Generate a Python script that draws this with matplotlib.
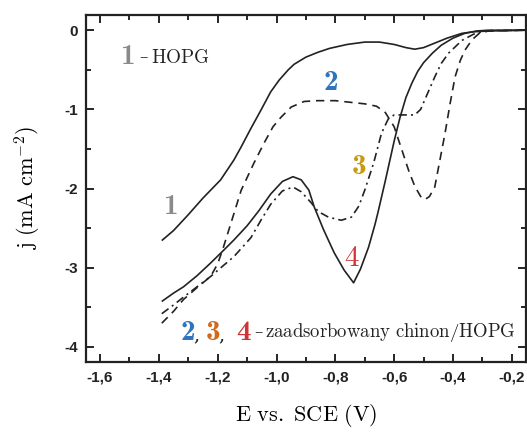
import matplotlib
matplotlib.use("Agg")
import matplotlib.pyplot as plt
import numpy as np

plt.rcParams['mathtext.fontset'] = 'cm'

# ---- data (E vs SCE in V, j in mA cm^-2) ----
E1 = [-1.388, -1.35, -1.30, -1.25, -1.19, -1.145, -1.121, -1.087, -1.053, -1.02,
      -0.991, -0.96, -0.94, -0.90, -0.86, -0.82, -0.76, -0.70, -0.65, -0.60,
      -0.56, -0.53, -0.50, -0.46, -0.42, -0.37, -0.33, -0.28, -0.15]
j1 = [-2.65, -2.53, -2.33, -2.12, -1.89, -1.64, -1.48, -1.24, -1.01, -0.78,
      -0.63, -0.50, -0.43, -0.34, -0.28, -0.23, -0.18, -0.15, -0.15, -0.18,
      -0.22, -0.24, -0.22, -0.16, -0.10, -0.04, -0.02, -0.01, 0.0]

E2 = [-1.39, -1.35, -1.316, -1.27, -1.224, -1.20, -1.183, -1.156, -1.12, -1.077,
      -1.043, -1.012, -0.985, -0.95, -0.906, -0.86, -0.80, -0.75, -0.70, -0.66,
      -0.63, -0.60, -0.574, -0.55, -0.53, -0.51, -0.496, -0.48, -0.462, -0.445,
      -0.427, -0.41, -0.393, -0.375, -0.359, -0.335, -0.311, -0.28, -0.15]
j2 = [-3.70, -3.55, -3.40, -3.25, -3.11, -2.95, -2.77, -2.45, -2.02, -1.68,
      -1.43, -1.22, -1.10, -0.97, -0.90, -0.89, -0.89, -0.91, -0.93, -0.96,
      -1.04, -1.22, -1.51, -1.78, -1.97, -2.10, -2.14, -2.10, -1.98, -1.65,
      -1.30, -0.93, -0.59, -0.38, -0.25, -0.12, -0.04, -0.01, 0.0]

E3 = [-1.39, -1.35, -1.316, -1.27, -1.224, -1.18, -1.145, -1.087, -1.053, -1.02,
      -0.98, -0.944, -0.916, -0.882, -0.858, -0.824, -0.78, -0.745, -0.72, -0.70,
      -0.67, -0.643, -0.62, -0.60, -0.574, -0.53, -0.51, -0.496, -0.462, -0.44,
      -0.415, -0.37, -0.33, -0.30, -0.27, -0.15]
j3 = [-3.58, -3.47, -3.37, -3.24, -3.11, -2.97, -2.86, -2.62, -2.40, -2.20,
      -2.03, -1.98, -2.04, -2.18, -2.29, -2.36, -2.40, -2.36, -2.22, -2.02,
      -1.68, -1.30, -1.12, -1.07, -1.07, -1.07, -1.00, -0.88, -0.59, -0.42,
      -0.29, -0.13, -0.05, -0.02, -0.005, 0.0]

E4 = [-1.388, -1.35, -1.316, -1.27, -1.224, -1.18, -1.145, -1.10, -1.06, -1.02,
      -0.98, -0.944, -0.916, -0.89, -0.872, -0.84, -0.804, -0.77, -0.738, -0.715,
      -0.687, -0.665, -0.655, -0.63, -0.60, -0.58, -0.56, -0.54, -0.52, -0.50,
      -0.47, -0.44, -0.40, -0.36, -0.32, -0.28, -0.15]
j4 = [-3.42, -3.32, -3.24, -3.10, -2.94, -2.78, -2.65, -2.47, -2.28, -2.07,
      -1.91, -1.85, -1.89, -2.02, -2.23, -2.52, -2.81, -3.03, -3.19, -3.02,
      -2.74, -2.45, -2.30, -1.90, -1.40, -1.10, -0.85, -0.67, -0.52, -0.41,
      -0.29, -0.19, -0.10, -0.04, -0.01, 0.0, 0.0]

x_ticks = [-1.6, -1.4, -1.2, -1.0, -0.8, -0.6, -0.4, -0.2]
y_ticks = [0, -1, -2, -3, -4]

# ---- figure ----
fig = plt.figure(figsize=(5.27, 4.33), dpi=100)
ax = fig.add_axes([0.163, 0.164, 0.835, 0.801])

lw = 1.2
ink = '#222222'
ax.plot(E1, j1, color=ink, lw=lw, ls='-')
ax.plot(E2, j2, color=ink, lw=lw, ls=(0, (5, 3.5)))
ax.plot(E3, j3, color=ink, lw=lw, ls=(0, (5, 2.5, 1.2, 2.5)))
ax.plot(E4, j4, color=ink, lw=lw, ls='-')

ax.set_xlim(-1.648, -0.152)
ax.set_ylim(-4.19, 0.19)

ax.set_xticks(x_ticks)
ax.set_xticklabels([f"{v:.1f}".replace('.', ',') for v in x_ticks])
ax.set_yticks(y_ticks)
ax.set_yticklabels([f"{v:d}" for v in y_ticks])
ax.set_xticks(np.arange(-1.6, -0.15, 0.1), minor=True)
ax.set_yticks(np.arange(-4.0, 0.01, 0.5), minor=True)

ax.tick_params(which='both', direction='in', top=True, right=True, width=1.2)
ax.tick_params(which='major', length=6, pad=6)
ax.tick_params(which='minor', length=3.5)
for lab in ax.get_xticklabels() + ax.get_yticklabels():
    lab.set_fontfamily('Liberation Sans')
    lab.set_fontweight('bold')
    lab.set_fontsize(11)
    lab.set_color(ink)
for s in ax.spines.values():
    s.set_linewidth(1.6)
    s.set_color(ink)

ax.set_ylabel(r'$\mathrm{j\ (mA\ cm^{-2})}$', fontsize=16, labelpad=15)
ax.set_xlabel(r'$\mathrm{E\ vs.\ SCE\ (V)}$', fontsize=16, labelpad=13)

gray = '#8a8a8a'
blue = '#2f74bf'
orange = '#d2691e'
gold = '#c89a12'
red = '#d03434'
bold_fam = 'cmb10'
dsz = 21

# legend-like annotation 1
ax.text(-1.508, -0.34, '1', color=gray, fontsize=dsz, ha='center', va='center', family=bold_fam)
ax.text(-1.466, -0.34, '\u2013', color=ink, fontsize=12, ha='left', va='center',
        family='DejaVu Serif')
ax.text(-1.425, -0.34, r'$\mathrm{HOPG}$', color=ink, fontsize=13.8, ha='left', va='center')

# curve labels
ax.text(-1.36, -2.23, '1', color=gray, fontsize=dsz, ha='center', va='center', family=bold_fam)
ax.text(-0.814, -0.67, '2', color=blue, fontsize=dsz, ha='center', va='center', family=bold_fam)
ax.text(-0.72, -1.73, '3', color=gold, fontsize=dsz, ha='center', va='center', family=bold_fam)
ax.text(-0.745, -2.88, r'$\mathrm{4}$', color=red, fontsize=dsz, ha='center', va='center')

# legend-like annotation 2,3,4
yy = -3.82
ax.text(-1.302, yy, '2', color=blue, fontsize=dsz, ha='center', va='center', family=bold_fam)
ax.text(-1.282, yy - 0.03, ',', color=ink, fontsize=14, ha='left', va='center', family='DejaVu Serif')
ax.text(-1.216, yy, '3', color=orange, fontsize=dsz, ha='center', va='center', family=bold_fam)
ax.text(-1.196, yy - 0.03, ',', color=ink, fontsize=14, ha='left', va='center', family='DejaVu Serif')
ax.text(-1.113, yy, '4', color=red, fontsize=dsz, ha='center', va='center', family=bold_fam)
ax.text(-1.074, yy, '\u2013', color=ink, fontsize=12, ha='left', va='center', family='DejaVu Serif')
ax.text(-1.038, yy, r'$\mathrm{zaadsorbowany\ chinon/HOPG}$', color=ink, fontsize=13.5,
        ha='left', va='center')

fig.savefig('out.png', dpi=100)
